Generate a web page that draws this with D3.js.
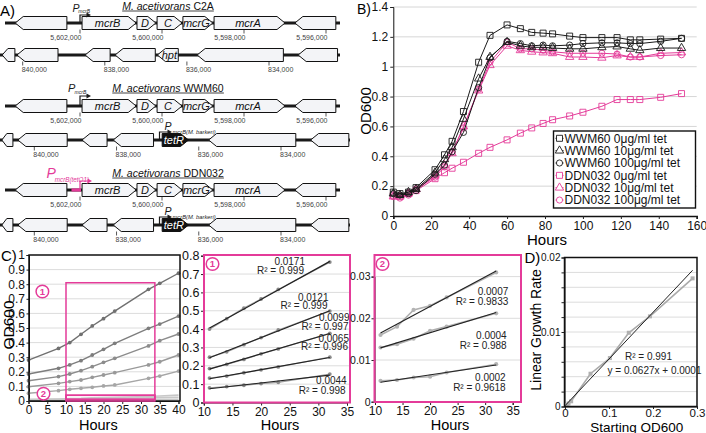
<!DOCTYPE html>
<html><head><meta charset="utf-8">
<script src="https://cdn.jsdelivr.net/npm/d3@7/dist/d3.min.js"></script>
<style>
html,body{margin:0;padding:0;background:#fff;}
svg{display:block;}
text{font-family:"Liberation Sans",Arial,Helvetica,sans-serif;}
</style></head><body>
<svg id="fig" width="706" height="433" viewBox="0 0 706 433"></svg>
<script>
// ================= DATA =================
// Panel A: genes (bp coordinates, dir = strand)
const mcrLocusGenes = [
  {from:5603580, to:5602320, dir:-1, name:""},
  {from:5601950, to:5600630, dir:1, name:"mcrB"},
  {from:5600610, to:5600150, dir:1, name:"D"},
  {from:5600120, to:5599510, dir:1, name:"C"},
  {from:5599490, to:5598760, dir:1, name:"mcrG"},
  {from:5598730, to:5597000, dir:1, name:"mcrA"},
  {from:5596760, to:5595760, dir:-1, name:""}
];
const hptLocusGenes = [
  {from:840500, to:840190, dir:-1, name:""},
  {from:840140, to:839140, dir:-1, name:""},
  {from:838480, to:837870, dir:-1, name:""},
  {from:837750, to:836770, dir:-1, name:""},
  {from:836720, to:836210, dir:-1, name:"hpt"},
  {from:835750, to:833650, dir:-1, name:""},
  {from:833290, to:832330, dir:-1, name:""}
];
const tetRLocusGenes = [
  {from:840790, to:840520, dir:-1, name:""},
  {from:840400, to:839200, dir:-1, name:""},
  {from:838840, to:838230, dir:-1, name:""},
  {from:838080, to:837100, dir:-1, name:""},
  {from:836890, to:836250, dir:1, name:"tetR", dark:true},
  {from:835760, to:833640, dir:-1, name:""},
  {from:833280, to:832350, dir:-1, name:""}
];
const mcrTicks = [5602000, 5600000, 5598000, 5596000];
const ctgTicks = [840000, 838000, 836000, 834000];
const strainTitles = ["C2A", "WWM60", "DDN032"];

// Panel B
const hoursB = [0,3.5,8,12,22,27,31,37,45,51,60,67,73,79,84,93,100,110,118,125,130,141,152];
const wwm60_0   = [0.16,0.15,0.16,0.19,0.31,0.41,0.50,0.70,1.03,1.21,1.28,1.255,1.23,1.225,1.22,1.205,1.195,1.195,1.195,1.18,1.18,1.185,1.19];
const wwm60_10  = [0.15,0.14,0.16,0.18,0.29,0.38,0.46,0.65,0.92,1.065,1.165,1.14,1.13,1.13,1.125,1.12,1.12,1.13,1.135,1.12,1.11,1.125,1.125];
const wwm60_100 = [0.15,0.14,0.15,0.17,0.28,0.34,0.43,0.56,0.86,1.06,1.17,1.155,1.14,1.145,1.14,1.145,1.155,1.16,1.16,1.155,1.155,1.17,1.19];
const ddn032_0  = [0.14,0.13,0.15,0.17,0.25,0.29,0.32,0.36,0.42,0.46,0.51,0.555,0.59,0.62,0.645,0.67,0.695,0.735,0.78,0.78,0.78,0.795,0.82];
const ddn032_10 = [0.13,0.13,0.15,0.18,0.27,0.34,0.42,0.60,0.84,1.01,1.14,1.11,1.10,1.095,1.09,1.065,1.065,1.06,1.075,1.065,1.065,1.09,1.095];
const ddn032_100= [0.13,0.12,0.14,0.18,0.26,0.33,0.43,0.59,0.85,1.03,1.165,1.12,1.12,1.11,1.10,1.09,1.09,1.09,1.085,1.065,1.065,1.075,1.08];
const legendB = ["WWM60 0μg/ml tet","WWM60 10μg/ml tet","WWM60 100μg/ml tet","DDN032 0μg/ml tet","DDN032 10μg/ml tet","DDN032 100μg/ml tet"];
const xTicksB = [0,20,40,60,80,100,120,140,160];
const yTicksB = [0,0.2,0.4,0.6,0.8,1,1.2,1.4];

// Panel C
const hoursC = [0,8,11,14,17,20,23,32,35,40];
const odC_1 = [0.28,0.36,0.40,0.457,0.514,0.564,0.616,0.765,0.806,0.875];
const odC_2 = [0.185,0.224,0.247,0.276,0.315,0.354,0.395,0.498,0.527,0.582];
const odC_3 = [0.139,0.167,0.185,0.208,0.235,0.265,0.292,0.377,0.413,0.459];
const odC_4 = [0.098,0.121,0.133,0.144,0.162,0.178,0.194,0.247,0.269,0.315];
const odC_5 = [0.053,0.071,0.080,0.087,0.094,0.103,0.110,0.155,0.171,0.205];
const odC_6 = [0.012,0.014,0.016,0.018,0.022,0.023,0.025,0.031,0.034,0.040];
const odC_7 = [0.009,0.012,0.013,0.0138,0.0151,0.017,0.018,0.0212,0.023,0.026];
const odC_8 = [0.004,0.0048,0.005,0.0052,0.0058,0.006,0.007,0.009,0.010,0.012];
const slopeLabels1 = ["0.0171","0.0121","0.0099","0.0065","0.0044"];
const r2Labels1 = ["0.999","0.999","0.997","0.996","0.998"];
const slopeLabels2 = ["0.0007","0.0004","0.0002"];
const r2Labels2 = ["0.9833","0.988","0.9618"];
const fitWindow = [11, 32];
const zoomWin1 = {t0:10, t1:33.7, od0:0, od1:0.81};
const zoomWin2 = {t0:10, t1:33.7, od0:0.012, od1:0.04};

// Panel D
const startOD = [0.004,0.008,0.014,0.058,0.102,0.145,0.193,0.29];
const growthRate = [0.0002,0.0004,0.0007,0.0044,0.0065,0.0099,0.0121,0.0172];
const fitD = {slope:0.0627, intercept:0.0001, r2:"0.991", x0:0, x1:0.29};

// ================= DRAW =================
const svg = d3.select("#fig");
const PINK = "#e43b99";
const INK = "#1a1a1a";

function styleAxis(g, fs){
  g.attr("font-family",null).attr("font-size",null);
  g.selectAll("text").attr("font-size",fs).attr("fill","#111");
  g.selectAll(".tick line").attr("stroke","#222");
  g.select(".domain").attr("stroke","#111");
}

// ---------- Panel A ----------
const A = svg.append("g");
A.append("text").attr("x",0).attr("y",16).attr("font-size",15).text("A)");

const rowsA = [
  {cy:23,  genes:mcrLocusGenes,  dom:[5602000,5596000], rng:[80,326],   ticks:mcrTicks, anchor:"end",   dx:1.5, line:[5,340]},
  {cy:55,  genes:hptLocusGenes,  dom:[840000,834000],   rng:[22.7,269], ticks:ctgTicks, anchor:"start", dx:-1,  line:[0,340]},
  {cy:106, genes:mcrLocusGenes,  dom:[5602000,5596000], rng:[80,326],   ticks:mcrTicks, anchor:"end",   dx:1.5, line:[5,340]},
  {cy:140, genes:tetRLocusGenes, dom:[840000,834000],   rng:[34.3,281], ticks:ctgTicks, anchor:"start", dx:-1,  line:[0,350]},
  {cy:190, genes:mcrLocusGenes,  dom:[5602000,5596000], rng:[80,326],   ticks:mcrTicks, anchor:"end",   dx:1.5, line:[5,340]},
  {cy:225, genes:tetRLocusGenes, dom:[840000,834000],   rng:[34.3,281], ticks:ctgTicks, anchor:"start", dx:-1,  line:[0,350]}
];

function genePath(x1,x2,dir,cy){
  const h=6.5, w=x2-x1, head=Math.min(8, w*0.45);
  if(dir>0) return `M${x1},${cy-h}H${x2-head}L${x2},${cy}L${x2-head},${cy+h}H${x1}Z`;
  return `M${x2},${cy-h}H${x1+head}L${x1},${cy}L${x1+head},${cy+h}H${x2}Z`;
}

rowsA.forEach(r=>{
  const sx = d3.scaleLinear().domain(r.dom).range(r.rng);
  const g = A.append("g");
  g.append("line").attr("x1",r.line[0]).attr("x2",r.line[1]).attr("y1",r.cy).attr("y2",r.cy)
    .attr("stroke",INK).attr("stroke-width",3);
  g.selectAll("line.tk").data(r.ticks).join("line").attr("class","tk")
    .attr("x1",d=>sx(d)).attr("x2",d=>sx(d)).attr("y1",r.cy+6.5).attr("y2",r.cy+10.5)
    .attr("stroke","#444").attr("stroke-width",0.9);
  g.selectAll("text.tl").data(r.ticks).join("text").attr("class","tl")
    .attr("x",d=>sx(d)+r.dx).attr("y",r.cy+17).attr("text-anchor",r.anchor)
    .attr("font-size",7).attr("fill","#444").text(d=>d3.format(",")(d));
  const gg = g.selectAll("g.gene").data(r.genes).join("g").attr("class","gene");
  gg.append("path").attr("d",d=>{
      const a=sx(d.from), b=sx(d.to);
      return genePath(Math.min(a,b),Math.max(a,b),d.dir,r.cy);
    })
    .attr("fill",d=>d.dark?"#111":"#f3f4f7").attr("stroke","#111").attr("stroke-width",1);
  gg.filter(d=>d.name).append("text")
    .attr("x",d=>(sx(d.from)+sx(d.to))/2 - d.dir*1.5).attr("y",r.cy+4)
    .attr("text-anchor","middle").attr("font-size",11).attr("font-style","italic")
    .attr("fill",d=>d.dark?"#fff":"#111").text(d=>d.name);
});

// Strain titles
const titleY = [9.5, 91.5, 176.5];
strainTitles.forEach((s,i)=>{
  const t = A.append("text").attr("x",168).attr("y",titleY[i]).attr("text-anchor","middle").attr("font-size",10.5).attr("fill","#111");
  t.append("tspan").attr("font-style","italic").text("M. acetivorans");
  t.append("tspan").text(" "+s);
  const bb = t.node().getBBox();
  A.append("line").attr("x1",bb.x).attr("x2",bb.x+bb.width).attr("y1",titleY[i]+1.5).attr("y2",titleY[i]+1.5)
    .attr("stroke","#111").attr("stroke-width",0.8);
});

// Promoters
const promotersA = [
  {cy:23,  x:80,    top:15,  tip:91,  color:INK,  P:[72.5,12,10.5],  sub:"mcrB", s:[78.3,13.3,5]},
  {cy:106, x:80,    top:96,  tip:91,  color:INK,  P:[68,92,11],     sub:"mcrB", s:[74.6,94,5]},
  {cy:190, x:80,    top:181, tip:92,  color:PINK, P:[46.5,177.5,14], sub:"mcrB(tetO1)", s:[54.8,181.5,6.3], seg:[71.5,81]},
  {cy:140, x:159.5, top:132, tip:172, color:INK,  P:[164.5,129.5,10.5], sub:"mcrB(M. barkeri)", s:[172.5,134,5.8]},
  {cy:225, x:159.5, top:217, tip:172, color:INK,  P:[164.5,214.5,10.5], sub:"mcrB(M. barkeri)", s:[172.5,219,5.8]}
];
promotersA.forEach(p=>{
  if(p.seg) A.append("line").attr("x1",p.seg[0]).attr("x2",p.seg[1]).attr("y1",p.cy).attr("y2",p.cy).attr("stroke",p.color).attr("stroke-width",3.2);
  A.append("path").attr("d",`M${p.x},${p.cy}V${p.top}H${p.tip-3.5}`).attr("fill","none").attr("stroke",p.color).attr("stroke-width",1.2);
  A.append("path").attr("d",`M${p.tip},${p.top}L${p.tip-4.5},${p.top-2.6}L${p.tip-4.5},${p.top+2.6}Z`).attr("fill",p.color);
  A.append("text").attr("x",p.P[0]).attr("y",p.P[1]).attr("font-size",p.P[2]).attr("font-style","italic").attr("fill",p.color).text("P");
  A.append("text").attr("x",p.s[0]).attr("y",p.s[1]).attr("font-size",p.s[2]).attr("font-style","italic").attr("fill",p.color).text(p.sub);
});

// ---------- Panel B ----------
const B = svg.append("g");
B.append("text").attr("x",357).attr("y",13.5).attr("font-size",14).text("B)");
const xB = d3.scaleLinear().domain([0,160]).range([393.3,696.7]);
const yB = d3.scaleLinear().domain([0,1.4]).range([216,7]);
B.selectAll("line.grid").data(yTicksB.filter(d=>d>0)).join("line").attr("class","grid")
  .attr("x1",xB(0)).attr("x2",xB(160)).attr("y1",d=>yB(d)).attr("y2",d=>yB(d))
  .attr("stroke","#d6d6d6").attr("stroke-width",1);
const gxB = B.append("g").attr("transform",`translate(0,${yB(0)})`)
  .call(d3.axisBottom(xB).tickValues(xTicksB).tickSize(3).tickPadding(2.5).tickFormat(d=>String(d)));
styleAxis(gxB,12); gxB.select(".domain").attr("stroke-width",1.6);
const gyB = B.append("g").attr("transform",`translate(${xB(0)},0)`)
  .call(d3.axisLeft(yB).tickValues(yTicksB).tickSize(3).tickPadding(2).tickFormat(d=>String(d)));
styleAxis(gyB,12);
B.append("text").attr("transform",`translate(371,111) rotate(-90)`).attr("text-anchor","middle").attr("font-size",15).text("OD600");
B.append("text").attr("x",547).attr("y",244.5).attr("text-anchor","middle").attr("font-size",15).text("Hours");

const seriesB = [
  {v:wwm60_0,   c:INK,  s:d3.symbolSquare,   z:36},
  {v:wwm60_10,  c:INK,  s:d3.symbolTriangle, z:30},
  {v:wwm60_100, c:INK,  s:d3.symbolCircle,   z:30},
  {v:ddn032_0,  c:PINK, s:d3.symbolSquare,   z:36},
  {v:ddn032_10, c:PINK, s:d3.symbolTriangle, z:30},
  {v:ddn032_100,c:PINK, s:d3.symbolCircle,   z:30}
];
const lineB = d3.line().x((d,i)=>xB(hoursB[i])).y(d=>yB(d));
[3,4,5,0,1,2].forEach(k=>{
  const s = seriesB[k];
  B.append("path").attr("d",lineB(s.v)).attr("fill","none").attr("stroke",s.c).attr("stroke-width",1);
  B.selectAll(null).data(s.v).join("path")
    .attr("transform",(d,i)=>`translate(${xB(hoursB[i])},${yB(d)})`)
    .attr("d",d3.symbol().type(s.s).size(s.z)).attr("fill","none").attr("stroke",s.c).attr("stroke-width",0.9);
});
// legend
const lg = B.append("g");
lg.append("rect").attr("x",553.5).attr("y",131).attr("width",142).attr("height",77).attr("fill","#fff").attr("stroke","#111").attr("stroke-width",1.4);
legendB.forEach((name,i)=>{
  const y = 138.3 + i*12.35, s = seriesB[i];
  lg.append("line").attr("x1",555.5).attr("x2",563.5).attr("y1",y).attr("y2",y).attr("stroke",s.c).attr("stroke-width",1);
  lg.append("path").attr("transform",`translate(559.5,${y})`).attr("d",d3.symbol().type(s.s).size(s.z)).attr("fill","#fff").attr("stroke",s.c).attr("stroke-width",0.9);
  lg.append("text").attr("x",564.5).attr("y",y).attr("dy","0.36em").attr("font-size",12).attr("fill","#111").text(name);
});

// ---------- Panel C ----------
const C = svg.append("g");
C.append("text").attr("x",1).attr("y",260.5).attr("font-size",15).text("C)");
const highC = [odC_1,odC_2,odC_3,odC_4,odC_5];
const lowC = [odC_6,odC_7,odC_8];
const highCols = ["#707070","#7d7d7d","#8c8c8c","#999999","#a6a6a6"];

// C1 overview
const xC1 = d3.scaleLinear().domain([0,40]).range([28.5,178.5]);
const yC1 = d3.scaleLinear().domain([0,1]).range([401,255]);
C.selectAll("line.g1").data(d3.range(1,10).map(d=>d/10)).join("line").attr("class","g1")
  .attr("x1",29).attr("x2",180).attr("y1",d=>yC1(d)).attr("y2",d=>yC1(d)).attr("stroke","#dcdcdc");
const gx1 = C.append("g").attr("transform",`translate(0,401)`).call(d3.axisBottom(xC1).tickValues([0,5,10,15,20,25,30,35,40]).tickSize(3).tickPadding(1.5));
styleAxis(gx1,12);
const gy1 = C.append("g").attr("transform",`translate(29,0)`).call(d3.axisLeft(yC1).tickValues(d3.range(0,11).map(d=>d/10)).tickSize(2.5).tickPadding(1.5).tickFormat(d=>String(d)));
styleAxis(gy1,12);
const lineC1 = d3.line().x((d,i)=>xC1(hoursC[i])).y(d=>yC1(d));
lowC.forEach(v=>{
  C.append("path").attr("d",lineC1(v)).attr("fill","none").attr("stroke","#c8c8c8").attr("stroke-width",1.6);
});
highC.forEach((v,k)=>{
  C.append("path").attr("d",lineC1(v)).attr("fill","none").attr("stroke",highCols[k]).attr("stroke-width",1.4);
  C.selectAll(null).data(v).join("circle").attr("cx",(d,i)=>xC1(hoursC[i])).attr("cy",d=>yC1(d)).attr("r",1.9).attr("fill",highCols[k]);
});
C.append("rect").attr("x",29).attr("y",255).attr("width",151).attr("height",146).attr("fill","none").attr("stroke","#111").attr("stroke-width",1.5);
[zoomWin1, zoomWin2].forEach((w,i)=>{
  C.append("rect").attr("x",xC1(w.t0)).attr("y",yC1(w.od1)).attr("width",xC1(w.t1)-xC1(w.t0)).attr("height",yC1(w.od0)-yC1(w.od1))
    .attr("fill","none").attr("stroke",PINK).attr("stroke-width",i?1.8:1.5);
});
function badge(x,y,n){
  C.append("circle").attr("cx",x).attr("cy",y).attr("r",6.3).attr("fill","#fff").attr("stroke",PINK).attr("stroke-width",1.5);
  C.append("text").attr("x",x).attr("y",y).attr("dy","0.36em").attr("text-anchor","middle").attr("font-size",9.5).attr("font-weight","bold").attr("fill",PINK).text(n);
}
badge(xC1(3.7), yC1(0.75), "1");
badge(xC1(4), yC1(0.05), "2");
C.append("text").attr("transform",`translate(13.5,325) rotate(-90)`).attr("text-anchor","middle").attr("font-size",15.5).text("OD600");
C.append("text").attr("x",98.3).attr("y",429.5).attr("text-anchor","middle").attr("font-size",14.5).text("Hours");

function linFit(xs, ys){
  const mx=d3.mean(xs), my=d3.mean(ys); let sxy=0,sxx=0;
  xs.forEach((x,i)=>{sxy+=(x-mx)*(ys[i]-my); sxx+=(x-mx)*(x-mx);});
  const b=sxy/sxx; return {b, a:my-b*mx};
}
const winIdx = hoursC.map((h,i)=>i).filter(i=>hoursC[i]>=fitWindow[0] && hoursC[i]<=fitWindow[1]);

// C2 zoom 1
const xC2 = d3.scaleLinear().domain([10,35]).range([203.8,347]);
const yC2 = d3.scaleLinear().domain([0,0.8]).range([402.5,255.7]);
C.selectAll("line.g2").data(d3.range(1,8).map(d=>d/10)).join("line").attr("class","g2")
  .attr("x1",204).attr("x2",350).attr("y1",d=>yC2(d)).attr("y2",d=>yC2(d)).attr("stroke","#dcdcdc");
const gx2 = C.append("g").attr("transform",`translate(0,402.5)`).call(d3.axisBottom(xC2).tickValues([10,15,20,25,30,35]).tickSize(3).tickPadding(1.5));
styleAxis(gx2,12);
const gy2 = C.append("g").attr("transform",`translate(204,0)`).call(d3.axisLeft(yC2).tickValues(d3.range(0,9).map(d=>d/10)).tickSize(3).tickPadding(1.5).tickFormat(d=>String(d)));
styleAxis(gy2,12.5);
highC.forEach((v,k)=>{
  const xs = winIdx.map(i=>hoursC[i]), ys = winIdx.map(i=>v[i]);
  C.append("path").attr("d",d3.line().x((d,i)=>xC2(xs[i])).y(d=>yC2(d))(ys)).attr("fill","none").attr("stroke","#a0a0a0").attr("stroke-width",1.3);
  C.selectAll(null).data(ys).join("circle").attr("cx",(d,i)=>xC2(xs[i])).attr("cy",d=>yC2(d)).attr("r",1.9).attr("fill","#8a8a8a");
  const f = linFit(xs,ys);
  C.append("line").attr("x1",xC2(xs[0])).attr("x2",xC2(xs[xs.length-1]))
    .attr("y1",yC2(f.a+f.b*xs[0])).attr("y2",yC2(f.a+f.b*xs[xs.length-1])).attr("stroke","#222").attr("stroke-width",1.2);
});
const lab1Pos = [[305,265,274],[328.5,300.5,309],[349.5,321,329.5],[349,341.5,350],[346.7,384,394]];
lab1Pos.forEach((p,i)=>{
  C.append("text").attr("x",p[0]).attr("y",p[1]).attr("text-anchor","end").attr("font-size",10).attr("fill","#222").text(slopeLabels1[i]);
  C.append("text").attr("x",p[0]-1).attr("y",p[2]).attr("text-anchor","end").attr("font-size",10).attr("fill","#222").text("R² = "+r2Labels1[i]);
});
C.append("rect").attr("x",204).attr("y",255).attr("width",146).attr("height",147.5).attr("fill","none").attr("stroke",PINK).attr("stroke-width",2);
badge(212.5,264,"1");
C.append("text").attr("x",280).attr("y",429.5).attr("text-anchor","middle").attr("font-size",14.5).text("Hours");

// C3 zoom 2
const xC3 = d3.scaleLinear().domain([10,35]).range([375,512.7]);
const yC3 = d3.scaleLinear().domain([0,0.03]).range([401.7,276.6]);
C.selectAll("line.g3").data([0.01,0.02,0.03]).join("line").attr("class","g3")
  .attr("x1",375).attr("x2",521).attr("y1",d=>yC3(d)).attr("y2",d=>yC3(d)).attr("stroke","#dcdcdc");
const gx3 = C.append("g").attr("transform",`translate(0,402)`).call(d3.axisBottom(xC3).tickValues([10,15,20,25,30,35]).tickSize(3).tickPadding(1.5));
styleAxis(gx3,12);
const gy3 = C.append("g").attr("transform",`translate(374.5,0)`).call(d3.axisLeft(yC3).tickValues([0,0.01,0.02,0.03]).tickSize(3).tickPadding(1).tickFormat(d=>String(d)));
styleAxis(gy3,10.5);
lowC.forEach((v,k)=>{
  const xs = winIdx.map(i=>hoursC[i]), ys = winIdx.map(i=>v[i]);
  C.append("path").attr("d",d3.line().x((d,i)=>xC3(xs[i])).y(d=>yC3(d))(ys)).attr("fill","none").attr("stroke","#b0b0b0").attr("stroke-width",1.6);
  C.selectAll(null).data(ys).join("circle").attr("cx",(d,i)=>xC3(xs[i])).attr("cy",d=>yC3(d)).attr("r",2.1).attr("fill","#b4b4b4");
  const f = linFit(xs,ys);
  C.append("line").attr("x1",xC3(xs[0])).attr("x2",xC3(xs[xs.length-1]))
    .attr("y1",yC3(f.a+f.b*xs[0])).attr("y2",yC3(f.a+f.b*xs[xs.length-1])).attr("stroke","#222").attr("stroke-width",1.1);
});
const lab2Pos = [[508.3,294.5,305],[506.7,339,348.5],[505.7,381,390.7]];
lab2Pos.forEach((p,i)=>{
  C.append("text").attr("x",p[0]).attr("y",p[1]).attr("text-anchor","end").attr("font-size",10).attr("fill","#222").text(slopeLabels2[i]);
  C.append("text").attr("x",p[0]).attr("y",p[2]).attr("text-anchor","end").attr("font-size",10).attr("fill","#222").text("R² = "+r2Labels2[i]);
});
C.append("rect").attr("x",374.5).attr("y",255).attr("width",146.5).attr("height",147).attr("fill","none").attr("stroke",PINK).attr("stroke-width",2);
badge(382.5,264,"2");
C.append("text").attr("x",450).attr("y",429.5).attr("text-anchor","middle").attr("font-size",14.5).text("Hours");

// ---------- Panel D ----------
const D = svg.append("g");
D.append("text").attr("x",524.5).attr("y",263).attr("font-size",15).text("D)");
const xD = d3.scaleLinear().domain([0,0.3]).range([565,697]);
const yD = d3.scaleLinear().domain([0,0.02]).range([406.5,257.5]);
D.selectAll("line.gd").data(d3.range(1,10).map(d=>d*0.002)).join("line").attr("class","gd")
  .attr("x1",565).attr("x2",697).attr("y1",d=>yD(d)).attr("y2",d=>yD(d)).attr("stroke","#dcdcdc");
const gxD = D.append("g").attr("transform",`translate(0,406.5)`).call(d3.axisBottom(xD).tickValues([0,0.1,0.2,0.3]).tickSize(2.5).tickPadding(0).tickFormat(d=>String(d)));
styleAxis(gxD,11.5);
const gyD = D.append("g").attr("transform",`translate(564.5,0)`).call(d3.axisLeft(yD).tickValues(d3.range(0,11).map(d=>d*0.002)).tickSize(3).tickPadding(1).tickFormat(d=>[0,0.01,0.02].some(v=>Math.abs(v-d)<1e-9)?String(+d.toFixed(2)):""));
styleAxis(gyD,10);
D.append("path").attr("d",d3.line().x((d,i)=>xD(startOD[i])).y(d=>yD(d))(growthRate)).attr("fill","none").attr("stroke","#aaaaaa").attr("stroke-width",1.6);
D.selectAll(null).data(growthRate).join("rect").attr("x",(d,i)=>xD(startOD[i])-2).attr("y",d=>yD(d)-2).attr("width",4).attr("height",4).attr("fill","#b0b0b0");
D.append("line").attr("x1",xD(fitD.x0)).attr("x2",xD(fitD.x1))
  .attr("y1",yD(fitD.intercept+fitD.slope*fitD.x0)).attr("y2",yD(fitD.intercept+fitD.slope*fitD.x1)).attr("stroke","#222").attr("stroke-width",1);
D.append("rect").attr("x",564.5).attr("y",257.5).attr("width",132.5).attr("height",149).attr("fill","none").attr("stroke","#111").attr("stroke-width",1.5);
D.append("text").attr("x",648.5).attr("y",359.5).attr("text-anchor","middle").attr("font-size",10).attr("fill","#222").text("R² = "+fitD.r2);
D.append("text").attr("x",654.5).attr("y",373.5).attr("text-anchor","middle").attr("font-size",10).attr("fill","#222")
  .text(`y = ${fitD.slope}x + ${fitD.intercept.toFixed(4)}`);
D.append("text").attr("transform",`translate(540.5,330) rotate(-90)`).attr("text-anchor","middle").attr("font-size",14).text("Linear Growth Rate");
D.append("text").attr("x",636.7).attr("y",431.5).attr("text-anchor","middle").attr("font-size",13.5).text("Starting OD600");
</script>
</body></html>
